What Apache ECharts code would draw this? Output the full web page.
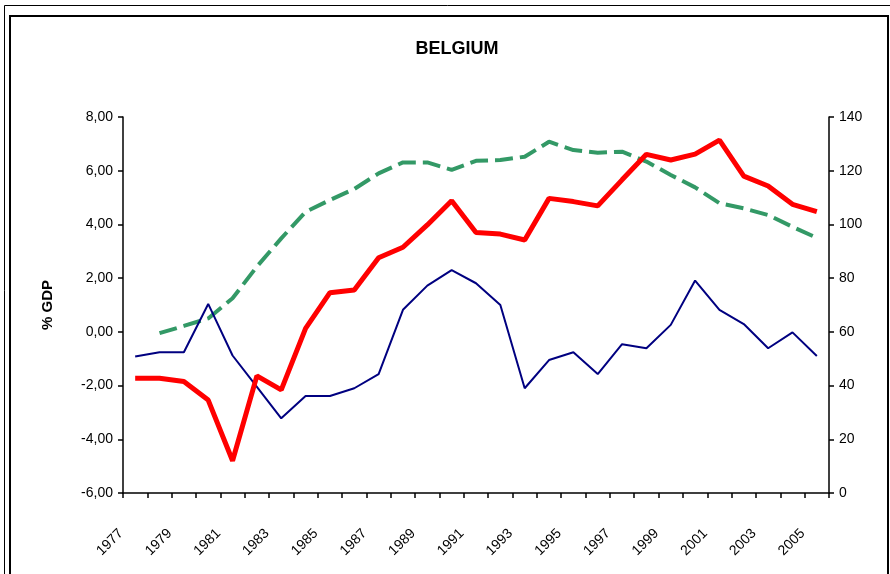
<!DOCTYPE html>
<html>
<head>
<meta charset="utf-8">
<title>Belgium</title>
<script src="https://cdn.jsdelivr.net/npm/echarts@6/dist/echarts.min.js"></script>
<style>
    html, body {margin: 0; padding: 0; background: #fff;}
    #chart {width: 890px; height: 574px;}
</style>
</head>
<body>
<div id="chart"></div>
<script>
// data
let years = []
for (let y = 1977; y <= 2005; y++) years.push(String(y))

// thick red line, left axis (% GDP)
let redValues = [-1.73, -1.73, -1.85, -2.54, -4.80, -1.64, -2.16, 0.13, 1.46, 1.56,
    2.76, 3.15, 3.98, 4.88, 3.70, 3.64, 3.42, 4.97, 4.85, 4.69,
    5.66, 6.61, 6.40, 6.62, 7.14, 5.80, 5.43, 4.75, 4.48]

// thin navy line, left axis (% GDP)
let blueValues = [-0.92, -0.76, -0.76, 1.04, -0.88, -2.05, -3.22, -2.39, -2.39, -2.10,
    -1.57, 0.82, 1.72, 2.30, 1.81, 1.00, -2.10, -1.05, -0.76, -1.57,
    -0.46, -0.61, 0.26, 1.91, 0.82, 0.29, -0.61, -0.02, -0.90]

// green dashed line, right axis
let greenValues = [null, 59.5, 62.2, 65.0, 72.5, 84.3, 94.8, 104.7, 109.1, 113.2,
    119.0, 123.1, 123.1, 120.3, 123.7, 124.0, 125.2, 130.8, 127.7, 126.7,
    127.1, 123.4, 118.4, 113.8, 107.9, 106.0, 103.5, 99.1, 95.0]

let leftTicks = {min: -6, max: 8, interval: 2}
let rightTicks = {min: 0, max: 140, interval: 20}

let font = 'Liberation Sans, Arial, sans-serif'
let axisLine = {show: true, lineStyle: {color: '#000', width: 1.5}}
let axisTick = {show: true, length: 5, lineStyle: {color: '#000', width: 1.5}}

let myChart = echarts.init(document.getElementById('chart'))
let option = {
    animation: false,
    backgroundColor: '#fff',
    textStyle: {fontFamily: font},
    title: {
        text: 'BELGIUM',
        left: 452,
        top: 35,
        textAlign: 'center',
        textStyle: {fontSize: 18, fontWeight: 'bold', color: '#000', fontFamily: font}
    },
    graphic: [
        {type: 'rect', shape: {x: 4.5, y: 5.5, width: 900, height: 600},
            style: {fill: 'none', stroke: '#000', lineWidth: 1}},
        {type: 'rect', shape: {x: 10, y: 16, width: 878, height: 600},
            style: {fill: 'none', stroke: '#000', lineWidth: 2}}
    ],
    grid: {left: 123, right: 61, top: 117, bottom: 81},
    xAxis: {
        type: 'category',
        data: years,
        boundaryGap: true,
        axisLine: Object.assign({onZero: false}, axisLine),
        axisTick: Object.assign({interval: 0}, axisTick),
        axisLabel: {
            interval: 1,
            rotate: 45,
            fontSize: 14,
            color: '#000',
            margin: 24,
            padding: [0, 20, 0, 0],
            fontFamily: font
        },
        splitLine: {show: false}
    },
    yAxis: [
        {
            type: 'value',
            min: leftTicks.min,
            max: leftTicks.max,
            interval: leftTicks.interval,
            name: '% GDP',
            nameLocation: 'middle',
            nameGap: 68,
            nameRotate: 90,
            nameTextStyle: {fontSize: 15, fontWeight: 'bold', color: '#000', fontFamily: font},
            axisLine: axisLine,
            axisTick: axisTick,
            axisLabel: {
                fontSize: 14,
                color: '#000',
                margin: 10,
                fontFamily: font,
                formatter: (v) => v.toFixed(2).replace('.', ',')
            },
            splitLine: {show: false}
        },
        {
            type: 'value',
            position: 'right',
            min: rightTicks.min,
            max: rightTicks.max,
            interval: rightTicks.interval,
            axisLine: axisLine,
            axisTick: axisTick,
            axisLabel: {fontSize: 14, color: '#000', margin: 10, fontFamily: font},
            splitLine: {show: false}
        }
    ],
    series: [
        {
            name: 'green',
            type: 'line',
            yAxisIndex: 1,
            data: greenValues,
            showSymbol: false,
            lineStyle: {color: '#339966', width: 4, type: [18, 7]},
            z: 2
        },
        {
            name: 'blue',
            type: 'line',
            yAxisIndex: 0,
            data: blueValues,
            showSymbol: false,
            lineStyle: {color: '#000080', width: 2},
            z: 3
        },
        {
            name: 'red',
            type: 'line',
            yAxisIndex: 0,
            data: redValues,
            showSymbol: false,
            lineStyle: {color: '#ff0000', width: 5},
            z: 4
        }
    ]
}
myChart.setOption(option)
</script>
</body>
</html>
